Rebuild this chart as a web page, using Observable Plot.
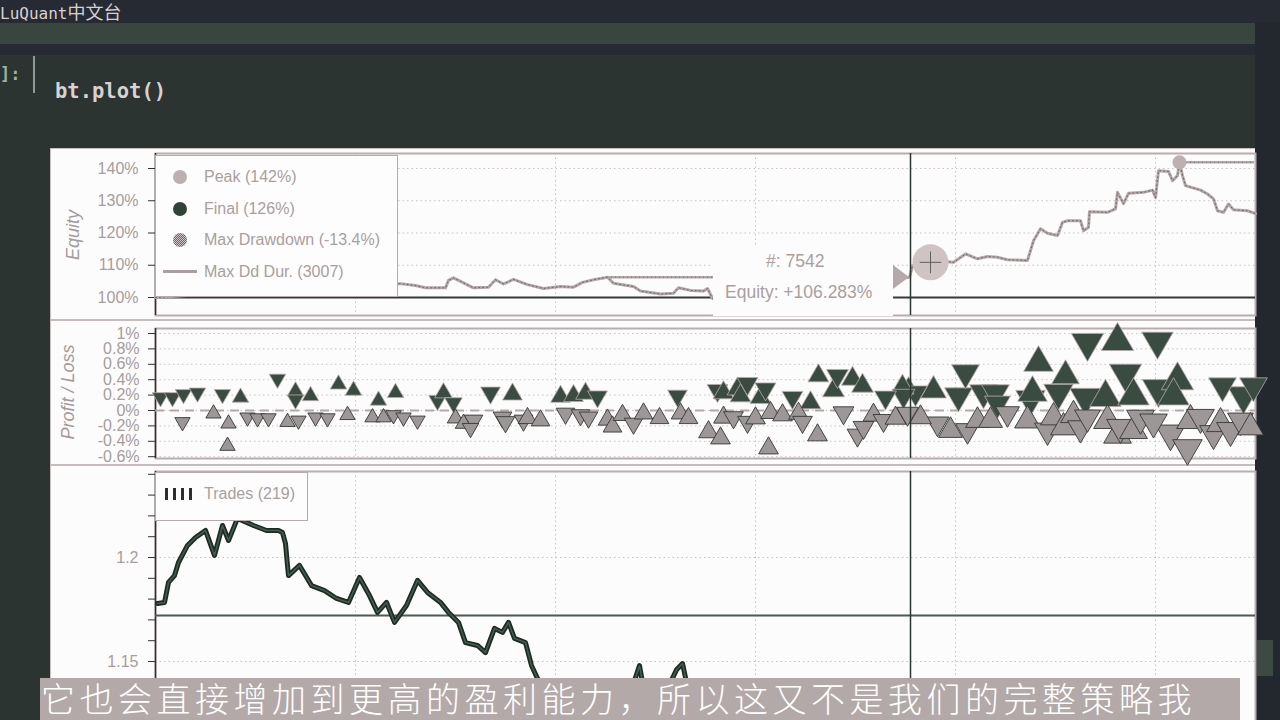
<!DOCTYPE html>
<html><head><meta charset="utf-8">
<script src="https://cdn.jsdelivr.net/npm/d3@7"></script>
<script src="https://cdn.jsdelivr.net/npm/@observablehq/plot@0.6"></script>
<style>
body{margin:0;width:1280px;height:720px;overflow:hidden;position:relative;background:#2b3431;font-family:"Liberation Sans",Arial,sans-serif}
.abs{position:absolute}
.lt{position:absolute;font-size:16px;color:#a99f9f;white-space:nowrap;line-height:18px}
.rot{position:absolute;transform:translate(-50%,-50%) rotate(-90deg);font-style:italic;font-size:18px;color:#a49a9a;white-space:nowrap}
.stip{background:repeating-conic-gradient(#6c6868 0 25%,#cdc5c5 0 50%) 0 0/2px 2px}
</style></head><body>
<svg width="0" height="0" style="position:absolute">
<defs>
<pattern id="stipGrey" width="2" height="2" patternUnits="userSpaceOnUse"><rect width="2" height="2" fill="#cfc7c7"/><rect width="1" height="1" fill="#6a6666"/><rect x="1" y="1" width="1" height="1" fill="#6a6666"/></pattern>
<pattern id="stipLight" width="2" height="2" patternUnits="userSpaceOnUse"><rect width="2" height="2" fill="#e6dede"/><rect width="1" height="1" fill="#b7a8a8"/><rect x="1" y="1" width="1" height="1" fill="#b7a8a8"/></pattern>
</defs></svg>

<!-- notebook chrome -->
<div class="abs" style="left:0;top:0;width:1280px;height:23px;background:#262a33"></div>
<div class="abs" style="left:0;top:2px;font-family:'DejaVu Sans Mono',monospace;font-size:16px;color:#d8d1d1;line-height:19px;white-space:nowrap">LuQuant<span style="font-family:'Noto Sans CJK SC';font-size:18px">中文台</span></div>
<div class="abs" style="left:0;top:23px;width:1255px;height:21px;background:#394640"></div>
<div class="abs" style="left:0;top:44px;width:1255px;height:11px;background:#262a33"></div>
<div class="abs" style="left:1255px;top:23px;width:25px;height:697px;background:#23272e"></div>
<div class="abs" style="left:1257px;top:640px;width:16px;height:36px;background:#3c4a43"></div>
<div class="abs" style="left:0;top:64px;font-family:'DejaVu Sans Mono',monospace;font-size:17px;font-weight:bold;color:#9fb1a7">]:</div>
<div class="abs" style="left:33px;top:56px;width:2px;height:37px;background:#8f9a94"></div>
<div class="abs" style="left:55px;top:79px;font-family:'DejaVu Sans Mono',monospace;font-size:20.5px;font-weight:bold;color:#d9d2d2">bt.plot()</div>

<!-- white panel -->
<div class="abs" style="left:50px;top:148px;width:1205px;height:572px;background:#fcfcfc;border-left:1px solid #c9bfbf;border-top:1px solid #c9bfbf;box-sizing:border-box"></div>
<div class="abs" style="left:51px;top:319px;width:1204px;height:1.5px;background:#c6bcbc"></div>
<div class="abs" style="left:51px;top:464px;width:1204px;height:1.5px;background:#c6bcbc"></div>

<div id="charts"></div>

<!-- equity legend -->
<div class="abs" style="left:155px;top:155px;width:243px;height:142px;background:#fdfdfd;border:1.5px solid #b7abab;box-sizing:border-box"></div>
<div class="abs" style="left:173px;top:170px;width:14px;height:14px;border-radius:50%;background:#bdb0b0"></div>
<div class="abs" style="left:173px;top:202px;width:14px;height:14px;border-radius:50%;background:#2f4339"></div>
<div class="abs stip" style="left:173px;top:233px;width:14px;height:14px;border-radius:50%"></div>
<div class="abs" style="left:163px;top:270px;width:34px;height:3px;background:#a99f9f"></div>
<div class="lt" style="left:204px;top:168px">Peak (142%)</div>
<div class="lt" style="left:204px;top:200px">Final (126%)</div>
<div class="lt" style="left:204px;top:231px">Max Drawdown (-13.4%)</div>
<div class="lt" style="left:204px;top:263px">Max Dd Dur. (3007)</div>

<!-- tooltip -->
<div class="abs" style="left:713px;top:246px;width:180px;height:70px;background:#fcfcfc"></div>
<div class="abs" style="left:893px;top:265px;width:0;height:0;border-top:12px solid transparent;border-bottom:12px solid transparent;border-left:16px solid #b3a9a9"></div>
<div class="lt" style="left:766px;top:251px;font-size:17.5px;line-height:20px">#: 7542</div>
<div class="lt" style="left:725px;top:282px;font-size:17.5px;line-height:20px">Equity: +106.283%</div>

<!-- trades legend -->
<div class="abs" style="left:155px;top:472px;width:153px;height:49px;background:#fdfdfd;border:1.5px solid #b7abab;box-sizing:border-box"></div>
<div class="abs" style="left:165px;top:488px;width:3px;height:12px;background:#2a302d"></div>
<div class="abs" style="left:173px;top:488px;width:3px;height:12px;background:#2a302d"></div>
<div class="abs" style="left:181px;top:488px;width:3px;height:12px;background:#2a302d"></div>
<div class="abs" style="left:189px;top:488px;width:3px;height:12px;background:#2a302d"></div>
<div class="lt" style="left:204px;top:485px">Trades (219)</div>

<div class="rot" style="left:73px;top:235px">Equity</div>
<div class="rot" style="left:68px;top:392px">Profit / Loss</div>

<!-- subtitle -->
<div class="abs" style="left:40px;top:678px;width:1200px;height:42px;background:#b3a9a9"></div>
<div class="abs" style="left:41px;top:679px;width:1199px;height:38px;font-family:'Noto Sans CJK SC';font-weight:300;font-size:34px;letter-spacing:4.5px;line-height:38px;color:#ffffff;white-space:nowrap">它也会直接增加到更高的盈利能力，所以这又不是我们的完整策略我</div>

<script>
// ---------- data ----------
const equityBar = [0,500,1200,2000,2450,2600,2700,2900,2930,2980,3180,3330,3400,3480,3580,3720,3880,4050,4180,4270,4380,4520,4580,4780,4850,5050,5180,5230,5350,5480,5520,5570,6000,6500,7000,7400,7542,7570,7750,7980,8100,8220,8320,8420,8520,8720,8780,8850,8920,9020,9070,9120,9250,9280,9330,9340,9520,9600,9620,9680,9730,9880,9970,10000,10030,10130,10170,10220,10240,10270,10300,10450,10520,10580,10620,10680,10730,10780,10920,11000];
const equityPct = [100,101,102.5,103.5,104.3,103.7,103.0,103.0,105.3,106.1,103.0,103.2,105.5,104.2,105.6,104.0,102.8,103.4,103.2,104.7,105.5,106.3,104.4,103.4,102.0,101.1,101.3,103.0,102.2,102.0,102.8,99.7,101.5,103.0,104.5,105.8,106.283,109.9,111.5,110.9,113.5,112.0,112.7,112.5,111.7,111.5,117.6,121.3,119.9,119.2,123.3,123.8,123.8,120.7,121.8,126.6,126.4,127.5,132.6,129.1,132.3,132.6,133.3,131.0,139.3,139.1,136.2,137.8,141.9,137.8,134.7,133.3,132.1,130.6,126.9,126.4,129.0,127.2,126.9,126.0];
const peakBar = 10240, peakPct = 141.9;
const markerBar = 7750, markerPct = 110.9;
const ddStartBar = [4520, 10270];
const ddEndBar = [7527, 10990];
const ddLevelPct = [106.3, 141.9];

const tradeBar = [50,170,280,420,270,580,670,730,850,720,920,1020,1130,1220,1320,1430,1400,1400,1550,1600,1720,1830,1920,1980,2170,2230,2280,2380,2400,2480,2620,2820,2880,2980,3000,3080,3150,3180,3350,3470,3500,3570,3680,3720,3850,4050,4100,4180,4250,4300,4330,4420,4520,4570,4670,4780,4880,5040,5220,5250,5330,5530,5620,5650,5680,5680,5780,5820,5850,5920,5920,6000,6050,6100,6130,6150,6270,6370,6430,6470,6550,6620,6630,6780,6820,6880,6970,7020,7070,7080,7180,7280,7300,7400,7470,7480,7530,7600,7520,7650,7780,7820,7950,8030,8100,8120,8220,8280,8350,8400,8420,8520,8720,8750,8770,8830,8920,8980,9030,9080,9100,9180,9250,9300,9320,9320,9500,9520,9620,9620,9650,9700,9780,9780,9850,9980,10020,10030,10150,10180,10220,10320,10350,10450,10580,10650,10670,10750,10850,10880,10950,10980];
const tradePnlPct = [0.17,0.17,0.21,0.23,-0.15,-0.04,0.21,-0.17,0.17,-0.46,-0.09,-0.10,-0.10,0.41,-0.15,-0.13,0.25,0.14,0.19,-0.09,-0.10,0.34,-0.06,0.26,-0.09,0.13,-0.09,-0.06,0.23,-0.09,-0.13,0.13,0.23,0.10,-0.10,-0.17,-0.23,-0.13,0.23,-0.09,-0.15,0.21,-0.13,-0.10,-0.13,0.18,-0.04,0.19,-0.06,0.22,-0.09,0.18,-0.12,-0.21,-0.06,-0.17,-0.04,-0.10,0.19,-0.04,-0.10,-0.28,0.26,-0.36,0.23,-0.09,-0.09,0.28,0.19,0.35,-0.15,-0.10,0.17,0.28,-0.49,-0.03,-0.06,0.17,-0.04,-0.15,0.10,-0.32,0.45,0.26,0.45,-0.03,0.41,-0.32,0.32,-0.22,-0.06,-0.13,0.17,-0.10,0.30,0.19,0.26,0.23,-0.04,-0.09,0.26,-0.17,-0.26,0.19,0.49,-0.26,-0.13,0.23,-0.13,0.23,0.09,-0.04,-0.13,0.15,0.23,0.62,-0.26,-0.09,0.23,-0.22,0.45,-0.06,-0.23,0.17,0.88,-0.09,0.17,-0.13,0.90,-0.32,-0.22,0.48,0.19,-0.26,-0.10,-0.15,0.90,0.28,-0.30,0.19,0.39,-0.49,-0.13,-0.09,-0.30,-0.17,0.32,-0.26,-0.13,0.19,-0.22,0.32];
const tradeSide = "SSSSSLSLLLSSSSLSLSLSSLLLLLLSLSSSLSLLSSSSSLSLLLSLSLSSLLLSLLSLLLSLLLSLLSSLLSLLLSLSLLLLSSLSLSLSSLLSLSSLLSLSSSLSLSSSLSLLSLSLLLSSSSLLLLSSLLSSSSSLLSLSSLSSSSL".split("");
const tradeSize = [11,11,11,11,10,10,11,10,11,10,10,10,10,11,10,10,11,11,11,10,10,11,10,11,10,11,10,10,11,10,10,12,12,12,11,11,11,13,14,13,13,14,13,13,13,14,13,14,13,14,13,14,13,13,13,13,13,13,14,13,13,14,15,14,15,14,14,15,15,15,14,14,15,15,14,14,14,15,14,14,15,14,15,16,16,15,16,15,16,15,15,15,16,15,17,17,18,18,16,16,20,17,18,22,22,18,18,22,18,22,20,18,20,24,24,24,20,20,24,20,22,20,20,26,27,20,26,22,27,22,22,27,26,22,22,22,26,27,24,26,27,24,22,22,22,22,22,22,20,26,20,22];

const priceBar = [20,90,130,190,230,320,400,500,590,670,730,820,980,1110,1230,1270,1300,1320,1330,1440,1560,1690,1810,1930,2040,2140,2220,2310,2390,2510,2620,2720,2850,2930,3030,3100,3220,3300,3390,3470,3530,3590,3700,3760,3820,4050,4450,4750,4840,4900,5050,5210,5270,5310,5450,6500,8000,9500,11000];
const priceVal = [1.1779,1.1784,1.188,1.1913,1.1976,1.2058,1.2096,1.213,1.201,1.2154,1.2082,1.2188,1.2154,1.213,1.213,1.212,1.2067,1.1962,1.1913,1.1962,1.1865,1.1841,1.1803,1.1784,1.1904,1.1817,1.1736,1.1784,1.1688,1.1769,1.189,1.1832,1.1784,1.1736,1.1688,1.1591,1.1577,1.1543,1.1659,1.164,1.1688,1.1611,1.1591,1.1481,1.1418,1.128,1.125,1.135,1.148,1.132,1.13,1.146,1.149,1.14,1.125,1.115,1.12,1.118,1.112];
const crossPrice = 1.1721;

const xGridTicks = [2000,4000,6000,8000,10000];
const equityTicks = [1.0,1.1,1.2,1.3,1.4];
const pnlTicks = [-0.006,-0.004,-0.002,0,0.002,0.004,0.006,0.008,0.01];
const priceTicks = [1.11,1.12,1.13,1.14,1.15,1.16,1.17,1.18,1.19,1.2,1.21,1.22,1.23,1.24];
const priceTickLabels = [1.15, 1.2];

// ---------- build ----------
const FONT = "'Liberation Sans', Arial, sans-serif";
const LABEL = "#a79d9d", FRAME = "#b9adad", AXIS = "#2e3230", GRID = "#cbc2c2";
const WIN = "#3a4c42";
const xCross = 7550;

const equity = equityBar.map((b, i) => ({bar: b, eq: equityPct[i] / 100}));
const dd = ddStartBar.map((s, i) => ({start: s, end: ddEndBar[i], level: ddLevelPct[i] / 100}));
const trades = tradeBar.map((b, i) => ({bar: b, pnl: tradePnlPct[i] / 100, long: tradeSide[i] === "L", size: tradeSize[i]}));
const price = priceBar.map((b, i) => ({bar: b, p: priceVal[i]}));

function place(svg, left, top) {
  svg.style.position = "absolute";
  svg.style.left = left + "px";
  svg.style.top = top + "px";
  document.getElementById("charts").appendChild(svg);
}
const grid = {stroke: GRID, strokeOpacity: 1, strokeDasharray: "1.5,3"};
const baseStyle = {background: "transparent", fontFamily: FONT, fontSize: "16px", overflow: "visible"};
const X = {domain: [0, 11000], axis: null};

const eqPlot = Plot.plot({
  width: 1205, height: 172, marginLeft: 105, marginRight: 0, marginTop: 5, marginBottom: 5,
  style: baseStyle, x: X, y: {domain: [0.9442, 1.4465], axis: null},
  marks: [
    Plot.gridX({ticks: xGridTicks, ...grid}),
    Plot.gridY({ticks: equityTicks, ...grid}),
    Plot.frame({stroke: FRAME, strokeWidth: 2}),
    Plot.axisY({ticks: equityTicks, label: null, tickFormat: d => Math.round(d * 100) + "%", tickSize: 7, tickPadding: 10, stroke: AXIS, fill: LABEL}),
    Plot.ruleX([0], {stroke: AXIS, strokeWidth: 1.5}),
    Plot.ruleY([1.0], {stroke: "#343b37", strokeWidth: 1.8}),
    Plot.ruleY(dd, {y: "level", x1: "start", x2: "end", stroke: "#b0a5a5", strokeWidth: 2.5}),
    Plot.ruleY(dd, {y: "level", x1: "start", x2: "end", stroke: "#6a6464", strokeWidth: 0.8, strokeDasharray: "1,3"}),
    Plot.line(equity, {x: "bar", y: "eq", stroke: "#b3a7a7", strokeWidth: 3}),
    Plot.line(equity, {x: "bar", y: "eq", stroke: "#575252", strokeWidth: 0.8, strokeDasharray: "1,3"}),
    Plot.dot([{bar: markerBar, eq: markerPct / 100}], {x: "bar", y: "eq", r: 18, fill: "url(#stipLight)"}),
    Plot.dot([{bar: markerBar, eq: markerPct / 100}], {x: "bar", y: "eq", r: 7, symbol: "plus", stroke: "#555", strokeWidth: 0.9}),
    Plot.dot([{bar: peakBar, eq: peakPct / 100}], {x: "bar", y: "eq", r: 7, fill: "#bdb0b0"}),
    Plot.ruleX([xCross], {stroke: "#2c3631", strokeWidth: 1.5})
  ]
});
place(eqPlot, 50, 148);

const rScale = {type: "pow", exponent: 0.75, domain: [0, 27], range: [0, 12]};
const pnlPlot = Plot.plot({
  width: 1205, height: 143, marginLeft: 105, marginRight: 0, marginTop: 8, marginBottom: 5,
  style: {...baseStyle, fontSize: "16px"}, x: X, y: {domain: [-0.006234, 0.010649], axis: null}, r: rScale,
  marks: [
    Plot.gridX({ticks: xGridTicks, ...grid}),
    Plot.gridY({ticks: pnlTicks, ...grid}),
    Plot.frame({stroke: FRAME, strokeWidth: 2}),
    Plot.axisY({ticks: pnlTicks, label: null, tickFormat: d => (+(d * 100).toFixed(1)) + "%", tickSize: 7, tickPadding: 9, stroke: AXIS, fill: LABEL}),
    Plot.ruleX([0], {stroke: AXIS, strokeWidth: 1.5}),
    Plot.ruleY([0], {stroke: "#b3a9a9", strokeWidth: 2, strokeDasharray: "9,6"}),
    Plot.dot(trades.filter(d => d.pnl >= 0), {x: "bar", y: "pnl", r: "size", symbol: "triangle", rotate: d => d.long ? 0 : 180, fill: WIN, stroke: "#b8abab", strokeWidth: 0.8}),
    Plot.dot(trades.filter(d => d.pnl < 0), {x: "bar", y: "pnl", r: "size", symbol: "triangle", rotate: d => d.long ? 0 : 180, fill: "url(#stipGrey)", stroke: "#343937", strokeWidth: 0.9}),
    Plot.ruleX([xCross], {stroke: "#2c3631", strokeWidth: 1.5})
  ]
});
place(pnlPlot, 50, 320);

const pricePlot = Plot.plot({
  width: 1205, height: 300, marginLeft: 105, marginRight: 0, marginTop: 8, marginBottom: 3,
  style: baseStyle, x: X, y: {domain: [1.1024, 1.24135], axis: null},
  marks: [
    Plot.gridX({ticks: xGridTicks, ...grid}),
    Plot.gridY({ticks: priceTickLabels, ...grid}),
    Plot.frame({stroke: FRAME, strokeWidth: 2}),
    Plot.axisY({ticks: priceTicks, label: null, tickFormat: d => priceTickLabels.some(v => Math.abs(v - d) < 1e-6) ? String(+d.toFixed(2)) : "", tickSize: 7, tickPadding: 10, stroke: AXIS, fill: LABEL}),
    Plot.ruleX([0], {stroke: AXIS, strokeWidth: 1.5}),
    Plot.ruleY([crossPrice], {stroke: "#4d5b53", strokeWidth: 2}),
    Plot.line(price, {x: "bar", y: "p", stroke: "#1f2a24", strokeWidth: 5, clip: true}),
    Plot.line(price, {x: "bar", y: "p", stroke: "#42614f", strokeWidth: 1.5, clip: true}),
    Plot.ruleX([xCross], {stroke: "#2c3631", strokeWidth: 1.5})
  ]
});
place(pricePlot, 50, 463);
</script>
</body></html>
